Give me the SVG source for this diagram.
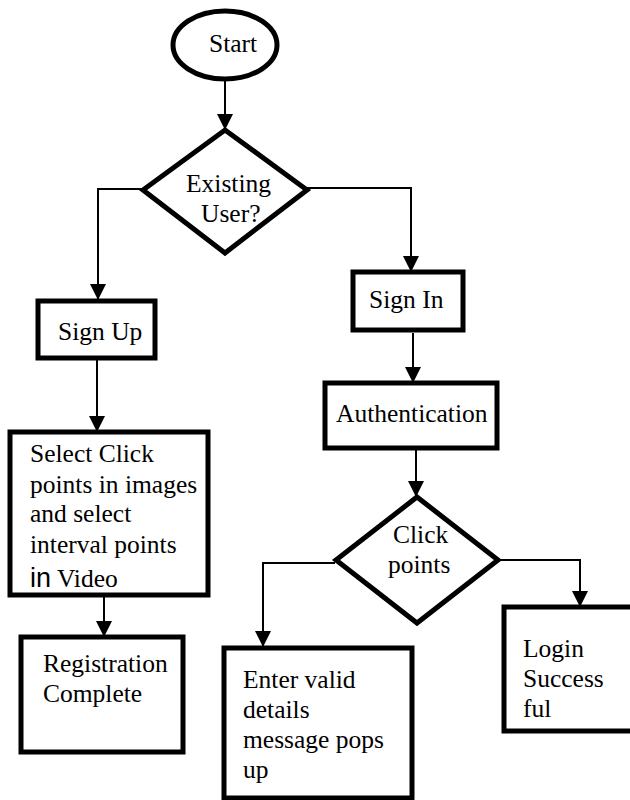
<svg xmlns="http://www.w3.org/2000/svg" width="630" height="800" viewBox="0 0 630 800">
<style>
.box{fill:#fff;stroke:#000;stroke-width:5}
.t{font-family:"Liberation Serif","Times New Roman",serif;font-size:25.5px;fill:#000}
.c{fill:none;stroke:#000;stroke-width:2}
</style>
<defs>
<marker id="ah" markerUnits="userSpaceOnUse" markerWidth="16" markerHeight="16" refX="16" refY="8" orient="auto">
<path d="M0,0 L16,8 L0,16 z" fill="#000"/>
</marker>
</defs>
<rect width="630" height="800" fill="#fff"/>
<g id="connectors">
<path class="c" d="M225,79 V130" marker-end="url(#ah)"/>
<path class="c" d="M143,189 H98 V300" marker-end="url(#ah)"/>
<path class="c" d="M307,188 H411 V272" marker-end="url(#ah)"/>
<path class="c" d="M97,358 V432" marker-end="url(#ah)"/>
<path class="c" d="M413,333 V383" marker-end="url(#ah)"/>
<path class="c" d="M416,450 V497" marker-end="url(#ah)"/>
<path class="c" d="M335,563 H263 V647" marker-end="url(#ah)"/>
<path class="c" d="M498,560 H580 V607" marker-end="url(#ah)"/>
<path class="c" d="M104,595 V637" marker-end="url(#ah)"/>
</g>
<g id="start">
<ellipse class="box" cx="225" cy="45" rx="52" ry="34"/>
<text class="t" x="209" y="52">Start</text>
</g>
<g id="existing-user">
<polygon class="box" points="225,130 307,190 225,253 143,190"/>
<text class="t" x="186" y="192">Existing</text>
<text class="t" x="201" y="222">User?</text>
</g>
<g id="sign-up">
<rect class="box" x="38" y="301" width="117" height="57"/>
<text class="t" x="58" y="340">Sign Up</text>
</g>
<g id="sign-in">
<rect class="box" x="353" y="272" width="110" height="58"/>
<text class="t" x="369" y="308">Sign In</text>
</g>
<g id="authentication">
<rect class="box" x="325" y="383" width="172" height="65"/>
<text class="t" x="336" y="422">Authentication</text>
</g>
<g id="select-click-points">
<rect class="box" x="10" y="432" width="198" height="163"/>
<text class="t" x="30" y="462">Select Click</text>
<text class="t" x="30" y="493">points in images</text>
<text class="t" x="30" y="522">and select</text>
<text class="t" x="30" y="553">interval points</text>
<text class="t" x="30" y="587"><tspan font-family="Liberation Sans, Arial, sans-serif" font-size="27">in</tspan> Video</text>
</g>
<g id="registration-complete">
<rect class="box" x="21" y="637" width="162" height="115"/>
<text class="t" x="43" y="672">Registration</text>
<text class="t" x="43" y="702">Complete</text>
</g>
<g id="click-points">
<polygon class="box" points="417,497 498,560 417,623 336,560"/>
<text class="t" x="393" y="543">Click</text>
<text class="t" x="388" y="573">points</text>
</g>
<g id="enter-valid-details">
<rect class="box" x="224" y="648" width="188" height="150"/>
<text class="t" x="243" y="688">Enter valid</text>
<text class="t" x="243" y="718">details</text>
<text class="t" x="243" y="748">message pops</text>
<text class="t" x="243" y="778">up</text>
</g>
<g id="login-successful">
<rect class="box" x="504" y="607" width="140" height="124"/>
<text class="t" x="523" y="657">Login</text>
<text class="t" x="523" y="687">Success</text>
<text class="t" x="523" y="717">ful</text>
</g>
</svg>
